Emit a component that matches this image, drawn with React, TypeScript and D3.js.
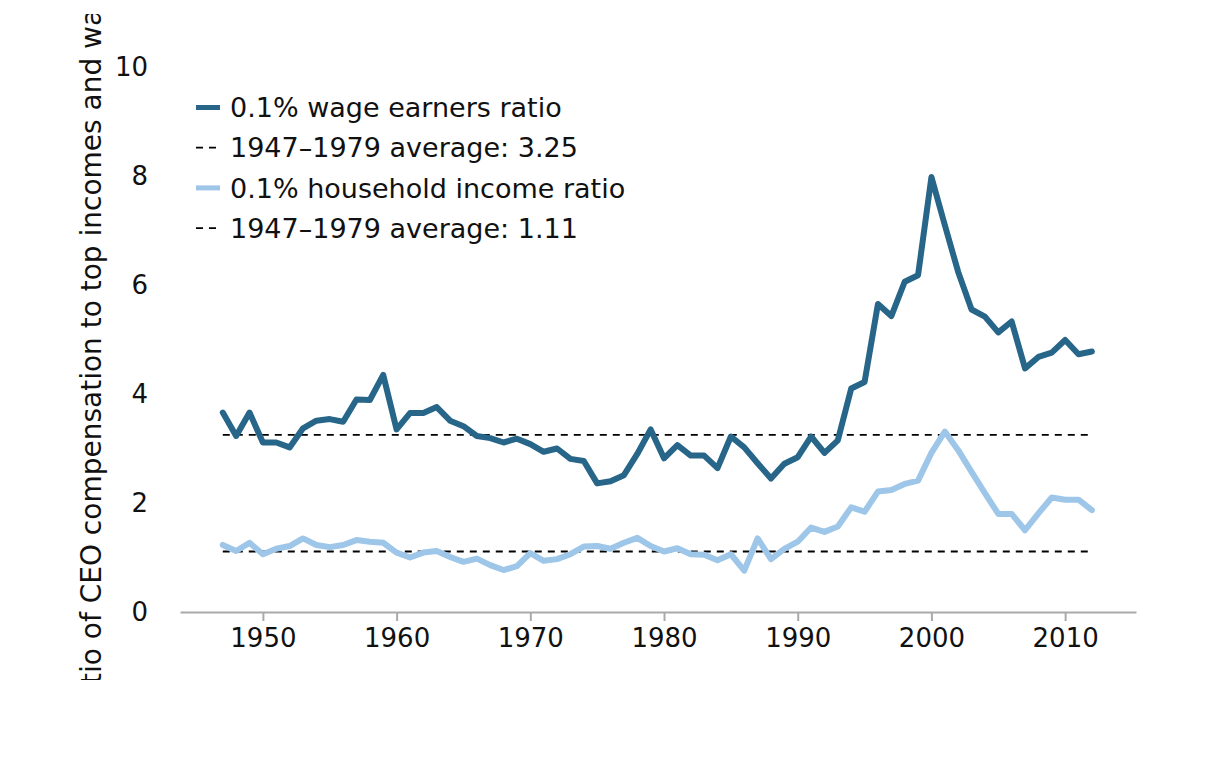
import React, { useEffect, useRef } from 'react';
import * as d3 from 'd3';

const years: number[] = d3.range(1947, 2013);

const wageRatio: number[] = [
    3.66, 3.23, 3.66, 3.11, 3.11, 3.02, 3.37, 3.51, 3.54, 3.49,
    3.90, 3.89, 4.35, 3.35, 3.65, 3.65, 3.76, 3.51, 3.41, 3.23,
    3.19, 3.11, 3.18, 3.08, 2.94, 3.00, 2.81, 2.77, 2.36, 2.40,
    2.51, 2.90, 3.35, 2.82, 3.06, 2.87, 2.87, 2.64, 3.22, 3.02,
    2.73, 2.45, 2.72, 2.84, 3.22, 2.92, 3.15, 4.10, 4.22, 5.65,
    5.43, 6.06, 6.18, 7.98, 7.10, 6.24, 5.55, 5.42, 5.13, 5.33,
    4.47, 4.68, 4.76, 4.99, 4.73, 4.78,
];

const householdRatio: number[] = [
    1.23, 1.12, 1.27, 1.06, 1.16, 1.21, 1.35, 1.23, 1.19, 1.23,
    1.32, 1.29, 1.27, 1.09, 1.00, 1.09, 1.12, 1.01, 0.92, 0.98,
    0.86, 0.77, 0.84, 1.08, 0.94, 0.97, 1.06, 1.20, 1.21, 1.16,
    1.27, 1.36, 1.21, 1.11, 1.17, 1.06, 1.05, 0.95, 1.06, 0.76,
    1.35, 0.97, 1.16, 1.29, 1.55, 1.47, 1.57, 1.92, 1.84, 2.21,
    2.24, 2.35, 2.41, 2.92, 3.31, 2.97, 2.57, 2.18, 1.80, 1.80,
    1.50, 1.81, 2.10, 2.06, 2.06, 1.87,
];

const wageAverage = 3.25;
const householdAverage = 1.11;

const yTicks: number[] = [0, 2, 4, 6, 8, 10];
const xTicks: number[] = [1950, 1960, 1970, 1980, 1990, 2000, 2010];

const legendItems = [
    { label: '0.1% wage earners ratio', kind: 'line', color: '#276589' },
    { label: '1947\u20131979 average: 3.25', kind: 'dash', color: '#000' },
    { label: '0.1% household income ratio', kind: 'line', color: '#9dc6e8' },
    { label: '1947\u20131979 average: 1.11', kind: 'dash', color: '#000' },
];

const yLabel = 'Ratio of CEO compensation to top incomes and wages';

const width = 1216;
const height = 761;
const font = '"DejaVu Sans", sans-serif';

const App: React.FC = () => {
    const svgRef = useRef<SVGSVGElement>(null);

    useEffect(() => {
        if (!svgRef.current) return;
        const svg = d3.select(svgRef.current);
        svg.selectAll('*').remove();

        const xScale = d3.scaleLinear().domain([1943.8, 2015.3]).range([180, 1136]);
        const yScale = d3.scaleLinear().domain([0, 10]).range([612, 67]);

        // y axis label, clipped like the original
        svg.append('clipPath').attr('id', 'ylabel-clip')
            .append('rect').attr('x', 0).attr('y', 14).attr('width', 160).attr('height', 666);
        svg.append('g').attr('clip-path', 'url(#ylabel-clip)')
            .append('text')
            .attr('transform', 'translate(101,720) rotate(-90)')
            .attr('font-family', font)
            .attr('font-size', 28)
            .attr('fill', '#111')
            .text(yLabel);

        // y tick labels
        svg.append('g').selectAll('text')
            .data(yTicks)
            .join('text')
            .attr('x', 148)
            .attr('y', d => yScale(d))
            .attr('dy', '0.36em')
            .attr('text-anchor', 'end')
            .attr('font-family', font)
            .attr('font-size', 26)
            .attr('fill', '#111')
            .text(d => d);

        // x axis
        const xAxis = svg.append('g')
            .attr('transform', `translate(0,${yScale(0)})`)
            .call(d3.axisBottom(xScale).tickValues(xTicks).tickFormat(d3.format('d')).tickSize(9).tickPadding(8).tickSizeOuter(0));
        xAxis.select('.domain').attr('stroke', '#aaa').attr('stroke-width', 2);
        xAxis.selectAll('.tick line').attr('stroke', '#aaa').attr('stroke-width', 2);
        xAxis.selectAll('.tick text')
            .attr('font-family', font)
            .attr('font-size', 26)
            .attr('fill', '#111');

        // average lines
        [wageAverage, householdAverage].forEach(v => {
            svg.append('line')
                .attr('x1', xScale(years[0]))
                .attr('x2', xScale(years[years.length - 1]))
                .attr('y1', yScale(v))
                .attr('y2', yScale(v))
                .attr('stroke', '#000')
                .attr('stroke-width', 1.8)
                .attr('stroke-dasharray', '7,6');
        });

        const line = d3.line<number>()
            .x((_, i) => xScale(years[i]))
            .y(d => yScale(d));

        svg.append('path')
            .datum(householdRatio)
            .attr('fill', 'none')
            .attr('stroke', '#9dc6e8')
            .attr('stroke-width', 6)
            .attr('stroke-linejoin', 'round')
            .attr('stroke-linecap', 'round')
            .attr('d', line);

        svg.append('path')
            .datum(wageRatio)
            .attr('fill', 'none')
            .attr('stroke', '#276589')
            .attr('stroke-width', 6)
            .attr('stroke-linejoin', 'round')
            .attr('stroke-linecap', 'round')
            .attr('d', line);

        // legend
        const legend = svg.append('g');
        legendItems.forEach((item, i) => {
            const cy = 107.5 + i * 40.2;
            if (item.kind === 'line') {
                legend.append('line')
                    .attr('x1', 196).attr('x2', 220)
                    .attr('y1', cy).attr('y2', cy)
                    .attr('stroke', item.color)
                    .attr('stroke-width', 5);
            } else {
                legend.append('line')
                    .attr('x1', 196).attr('x2', 216)
                    .attr('y1', cy).attr('y2', cy)
                    .attr('stroke', item.color)
                    .attr('stroke-width', 1.8)
                    .attr('stroke-dasharray', '7,6');
            }
            legend.append('text')
                .attr('x', 230)
                .attr('y', cy)
                .attr('dy', '0.36em')
                .attr('font-family', font)
                .attr('font-size', 27)
                .attr('fill', '#111')
                .text(item.label);
        });
    }, []);

    return (
        <svg ref={svgRef} width={width} height={height}
            style={{ position: 'absolute', left: 0, top: 0, background: '#fff' }}></svg>
    );
};

export default App;
